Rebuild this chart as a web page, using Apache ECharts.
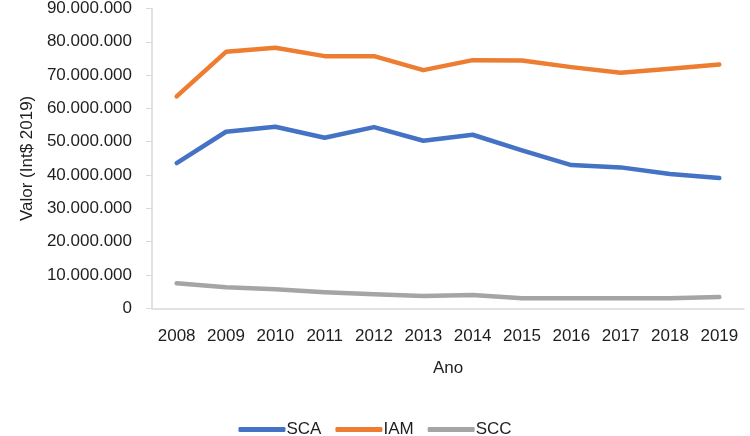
<!DOCTYPE html>
<html><head><meta charset="utf-8">
<script src="https://cdn.jsdelivr.net/npm/echarts@6/dist/echarts.min.js"></script>
<style>html,body{margin:0;padding:0;background:#fff}#c{width:750px;height:436px}</style>
</head><body><div id="c"></div>
<script>
const categories = ['2008','2009','2010','2011','2012','2013','2014','2015','2016','2017','2018','2019'];
const sca = [43600000, 53000000, 54500000, 51200000, 54400000, 50300000, 52100000, 47400000, 43000000, 42300000, 40300000, 39100000];
const iam = [63600000, 77000000, 78200000, 75700000, 75700000, 71500000, 74500000, 74400000, 72400000, 70700000, 71900000, 73200000];
const scc = [7500000, 6300000, 5700000, 4800000, 4200000, 3700000, 4000000, 3000000, 3000000, 3000000, 3000000, 3400000];
const seriesNames = ['SCA','IAM','SCC'];
const colors = ['#4472C4','#ED7D31','#A5A5A5'];

function fmt(v){ return String(Math.round(v)).replace(/\B(?=(\d{3})+(?!\d))/g,'.'); }
const font = 'Liberation Sans';
const txt = '#1e1e1e';
const chart = echarts.init(document.getElementById('c'));
const data = [sca, iam, scc];
chart.setOption({
  animation: false,
  grid: {left: 152, right: 6, top: 7.3, bottom: 127.7, containLabel: false},
  legend: {
    top: 416, left: 'center',
    icon: 'roundRect', itemWidth: 47, itemHeight: 5, itemGap: 14,
    textStyle: {fontFamily: font, fontSize: 17, color: txt, padding: [0,0,0,-4]},
    data: seriesNames
  },
  xAxis: {
    type: 'category', data: categories, boundaryGap: true,
    name: 'Ano', nameLocation: 'middle', nameGap: 52,
    nameTextStyle: {fontFamily: font, fontSize: 17, color: txt},
    axisLine: {lineStyle: {color: '#d9d9d9', width: 1.5}},
    axisTick: {show: false},
    axisLabel: {fontFamily: font, fontSize: 17, color: txt, margin: 20}
  },
  yAxis: {
    type: 'value', min: 0, max: 90000000, interval: 10000000,
    name: 'Valor (Int$ 2019)', nameLocation: 'middle', nameGap: 115, nameRotate: 90,
    nameTextStyle: {fontFamily: font, fontSize: 17, color: txt},
    axisLine: {show: true, lineStyle: {color: '#d9d9d9', width: 1.5}},
    axisTick: {show: true, length: 6, lineStyle: {color: '#d9d9d9'}},
    splitLine: {show: false},
    axisLabel: {fontFamily: font, fontSize: 17, color: txt, margin: 20, formatter: fmt}
  },
  series: seriesNames.map((n,i)=>({
    name: n, type: 'line', data: data[i], showSymbol: false, symbol: 'none',
    lineStyle: {color: colors[i], width: 4.5, cap: 'round', join: 'round'},
    itemStyle: {color: colors[i]}
  }))
});
</script></body></html>
